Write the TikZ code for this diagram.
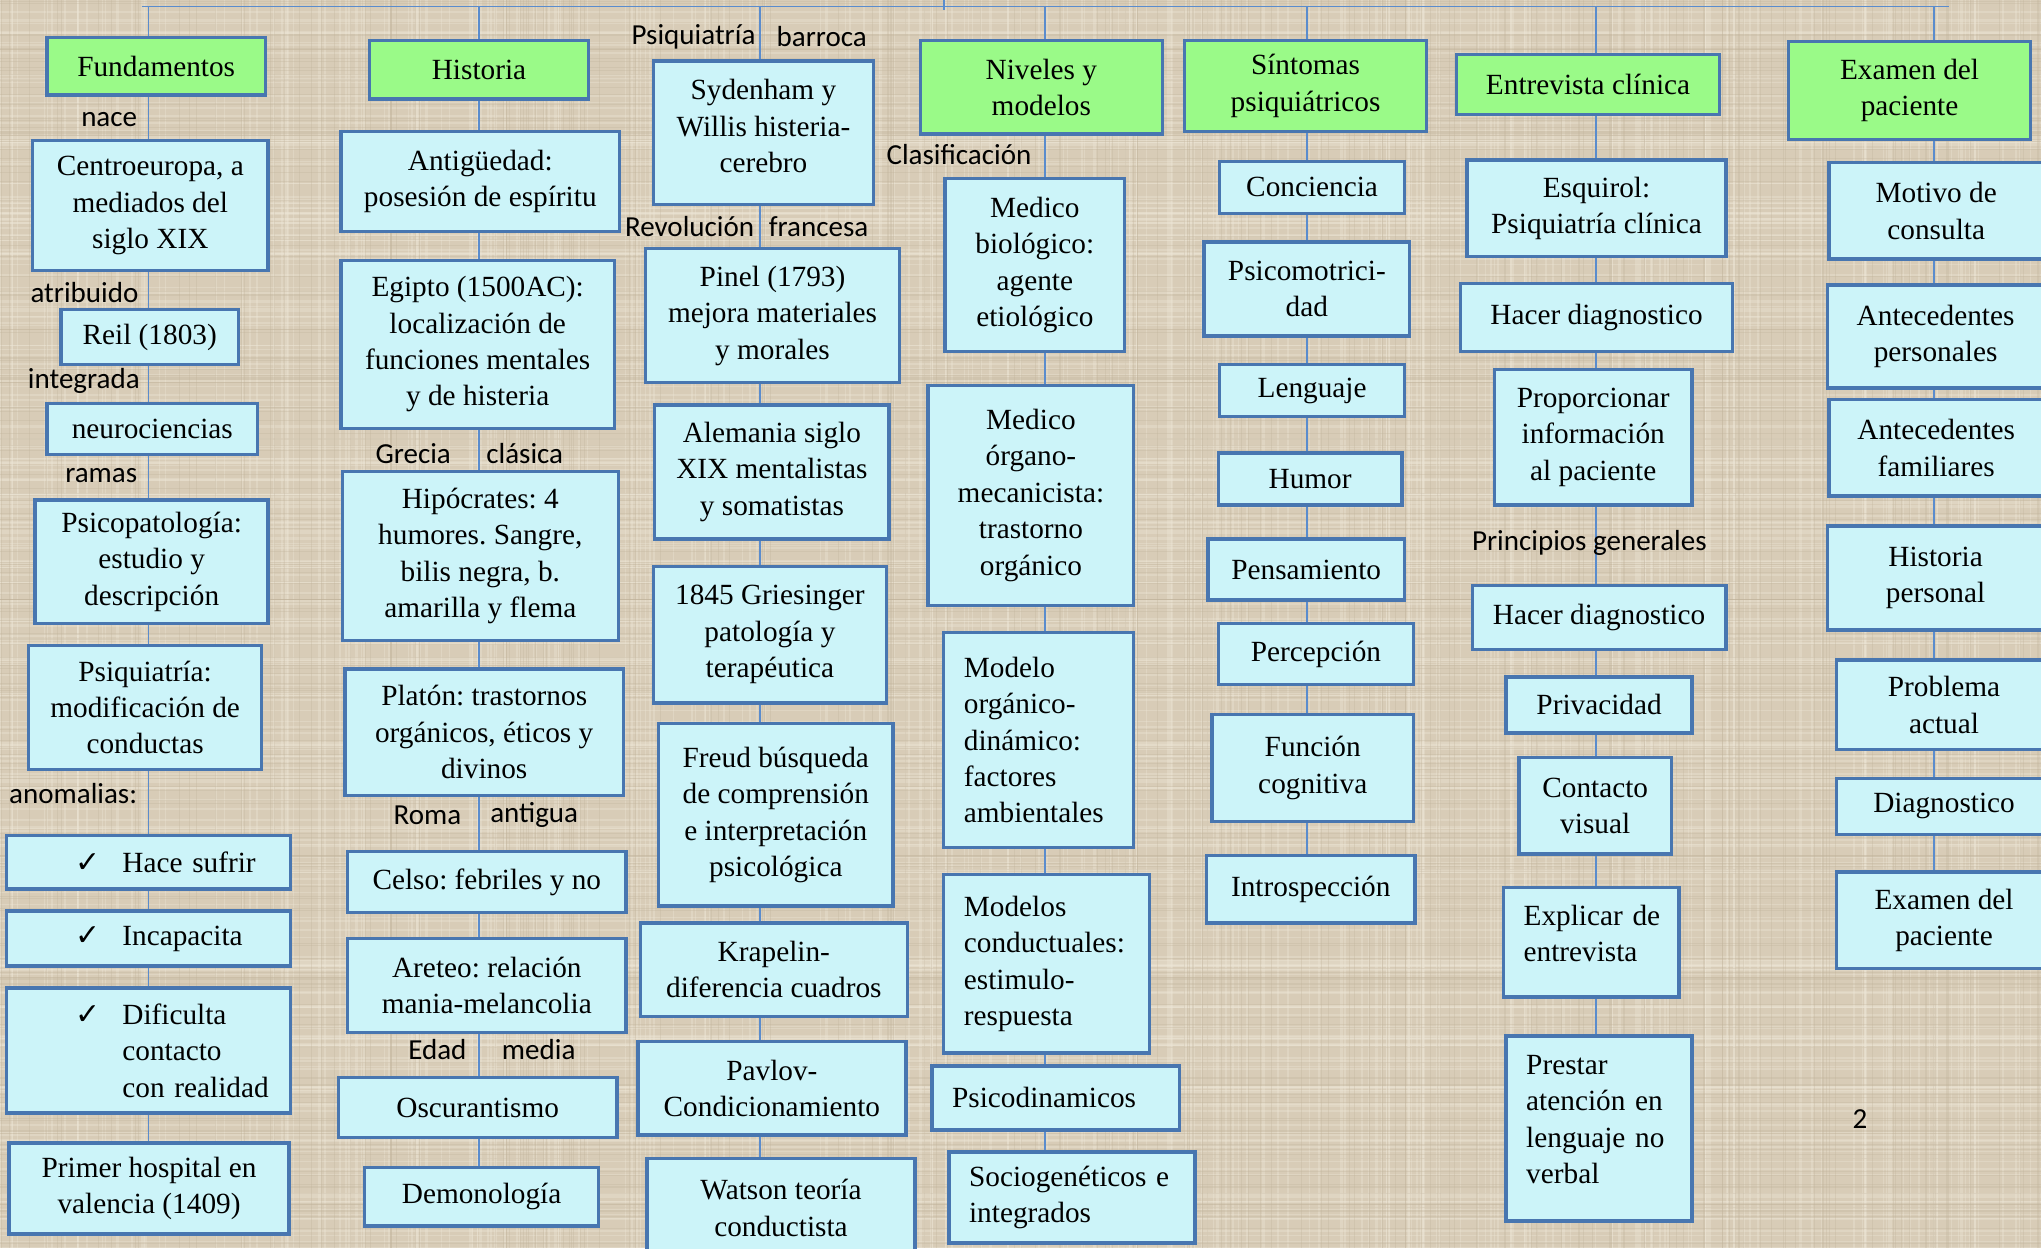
\documentclass[tikz,border=0pt]{standalone}
\usepackage{fontspec}
\setmainfont{Liberation Serif}
\newfontfamily\lblfont{Carlito}
\newfontfamily\chkfont{DejaVu Sans}
\usepackage{tikz}
\usetikzlibrary{positioning}
\frenchspacing

\definecolor{canvas}{RGB}{216,204,183}
\definecolor{canvaslight}{RGB}{238,231,216}
\definecolor{canvasdark}{RGB}{192,178,154}
\definecolor{boxfill}{RGB}{204,244,249}
\definecolor{boxedge}{RGB}{72,118,176}
\definecolor{headfill}{RGB}{154,250,136}
\definecolor{linkblue}{RGB}{90,140,205}

\newcommand{\okmark}{\makebox[36pt][l]{\chkfont\fontsize{23}{23}\selectfont ✓}}

\begin{document}
\begin{tikzpicture}[x=1pt,y=-1pt,
  concept/.style={draw=boxedge,line width=2.6pt,fill=boxfill,inner sep=4pt,
    align=center,font=\fontsize{22.5}{28}\selectfont},
  header/.style={concept,fill=headfill},
  leftbox/.style={concept,align=left,inner xsep=15.5pt},
  tickbox/.style={concept,align=left,inner xsep=6pt},
  lbl/.style={font=\lblfont\fontsize{22.3}{26}\selectfont,inner sep=1pt},
  link/.style={draw=linkblue,line width=1.3pt}]

  \useasboundingbox (0,0) rectangle (1568,959);
  \clip (0,0) rectangle (1568,959);
  \fill[canvas] (0,0) rectangle (1568,959);

  % canvas weave
  \pgfmathsetseed{17}
  \foreach \k in {1,...,260}{
    \pgfmathsetmacro{\xx}{1568*rnd}
    \pgfmathsetmacro{\ww}{0.5+1.5*rnd}
    \draw[canvaslight,opacity=0.35,line width=\ww pt] (\xx,0) -- (\xx,959);
    \pgfmathsetmacro{\yy}{959*rnd}
    \pgfmathsetmacro{\ww}{0.5+1.5*rnd}
    \draw[canvaslight,opacity=0.35,line width=\ww pt] (0,\yy) -- (1568,\yy);
  }
  \foreach \k in {1,...,180}{
    \pgfmathsetmacro{\xx}{1568*rnd}
    \draw[canvasdark,opacity=0.3,line width=0.8pt] (\xx,0) -- (\xx,959);
    \pgfmathsetmacro{\yy}{959*rnd}
    \draw[canvasdark,opacity=0.3,line width=0.8pt] (0,\yy) -- (1568,\yy);
  }

  % top bar
  \coordinate (barl) at (109,5);
  \coordinate (barr) at (1497,5);
  \coordinate (stub) at (725,0);
  \coordinate (stubend) at (725,8);
  \coordinate (t1) at (114,5);
  \coordinate (t2) at (368,5);
  \coordinate (t3) at (584,5);
  \coordinate (t4) at (803,5);
  \coordinate (t5) at (1004,5);
  \coordinate (t6) at (1226,5);
  \coordinate (t7) at (1486,5);

  % Fundamentos
  \node[header,minimum width=168pt,minimum height=44pt] (fund) at (120,51) {Fundamentos};
  \node[concept,minimum width=181pt,minimum height=100pt] (centro) at (115.5,158) {Centroeuropa, a\\mediados del\\siglo XIX};
  \node[concept,minimum width=136pt,minimum height=42pt] (reil) at (115,259) {Reil (1803)};
  \node[concept,minimum width=162pt,minimum height=39pt] (neuro) at (117,329.5) {neurociencias};
  \node[concept,minimum width=179pt,minimum height=95pt] (psicopat) at (116.5,431.5) {Psicopatología:\\estudio y\\descripción};
  \node[concept,minimum width=179pt,minimum height=95pt] (psiqmod) at (111.5,543.5) {Psiquiatría:\\modificación de\\conductas};
  \node[tickbox,text width=206pt,minimum width=218pt,minimum height=41pt] (sufrir) at (114,662.5) {\hspace*{47pt}\okmark Hace sufrir};
  \node[tickbox,text width=206pt,minimum width=218pt,minimum height=42pt] (incapac) at (114,721) {\hspace*{47pt}\okmark Incapacita};
  \node[tickbox,text width=206pt,minimum width=218pt,minimum height=96pt] (dificul) at (114,807) {\hspace*{47pt}\okmark Dificulta\\\hspace*{83pt}contacto\\\hspace*{83pt}con realidad};
  \node[concept,minimum width=215pt,minimum height=70pt] (hospital) at (114.5,913) {Primer hospital en\\valencia (1409)};

  % Historia
  \node[header,minimum width=168pt,minimum height=45pt] (hist) at (368,53.5) {Historia};
  \node[concept,minimum width=214pt,minimum height=77pt] (antig) at (369,139.5) {Antigüedad:\\posesión de espíritu};
  \node[concept,minimum width=210pt,minimum height=129pt] (egipto) at (367,264.5) {Egipto (1500AC):\\localización de\\funciones mentales\\y de histeria};
  \node[concept,minimum width=212pt,minimum height=130pt] (hipoc) at (369,427) {Hipócrates: 4\\humores. Sangre,\\bilis negra, b.\\amarilla y flema};
  \node[concept,minimum width=214pt,minimum height=97pt] (platon) at (372,562.5) {Platón: trastornos\\orgánicos, éticos y\\divinos};
  \node[concept,minimum width=214pt,minimum height=47pt] (celso) at (374,677.5) {Celso: febriles y no};
  \node[concept,minimum width=214pt,minimum height=72pt] (areteo) at (374,757) {Areteo: relación\\mania-melancolia};
  \node[concept,minimum width=214pt,minimum height=46pt] (oscur) at (367,851) {Oscurantismo};
  \node[concept,minimum width=180pt,minimum height=45pt] (demon) at (370,919.5) {Demonología};

  % Psiquiatria barroca
  \node[concept,minimum width=169pt,minimum height=110pt] (syd) at (586.5,102) {Sydenham y\\Willis histeria-\\cerebro\\[-18pt]\mbox{}};
  \node[concept,minimum width=195pt,minimum height=103pt] (pinel) at (593.5,242.5) {Pinel (1793)\\mejora materiales\\y morales};
  \node[concept,minimum width=180pt,minimum height=103pt] (alem) at (593,362.5) {Alemania siglo\\XIX mentalistas\\y somatistas};
  \node[concept,minimum width=179pt,minimum height=105pt] (gries) at (591.5,487.5) {1845 Griesinger\\patología y\\terapéutica};
  \node[concept,minimum width=180pt,minimum height=140pt] (freud) at (596,626) {Freud búsqueda\\de comprensión\\e interpretación\\psicológica};
  \node[concept,minimum width=205pt,minimum height=72pt] (krap) at (594.5,745) {Krapelin-\\diferencia cuadros};
  \node[concept,minimum width=206pt,minimum height=72pt] (pavlov) at (593,836) {Pavlov-\\Condicionamiento};
  \node[concept,minimum width=206pt,minimum height=76pt] (watson) at (600,928) {Watson teoría\\conductista};

  % Niveles y modelos
  \node[header,minimum width=186pt,minimum height=72pt] (niv) at (800,67) {Niveles y\\modelos};
  \node[concept,minimum width=138pt,minimum height=133pt] (medbio) at (795,203.5) {Medico\\biológico:\\agente\\etiológico};
  \node[concept,minimum width=158pt,minimum height=169pt] (medorg) at (792,380.5) {Medico\\órgano-\\mecanicista:\\trastorno\\orgánico};
  \node[leftbox,text width=115pt,minimum width=146pt,minimum height=165pt] (modorg) at (798,568.5) {Modelo\\orgánico-\\dinámico:\\factores\\ambientales};
  \node[leftbox,text width=127pt,minimum width=158pt,minimum height=137pt] (modcond) at (804,740.5) {Modelos\\conductuales:\\estimulo-\\respuesta};
  \node[leftbox,text width=159pt,minimum width=190pt,minimum height=49pt] (psicod) at (811,843.5) {Psicodinamicos};
  \node[leftbox,text width=158pt,minimum width=189pt,minimum height=70pt] (sociog) at (823.5,920) {Sociogenéticos e\\integrados};

  % Sintomas psiquiatricos
  \node[header,minimum width=186pt,minimum height=70pt] (sint) at (1003,66) {Síntomas\\psiquiátricos};
  \node[concept,minimum width=142pt,minimum height=40pt] (conc) at (1008,144) {Conciencia};
  \node[concept,minimum width=158pt,minimum height=72pt] (psicom) at (1004,222) {Psicomotrici-\\dad};
  \node[concept,minimum width=142pt,minimum height=40pt] (leng) at (1008,300) {Lenguaje};
  \node[concept,minimum width=141pt,minimum height=40pt] (humor) at (1006.5,368) {Humor};
  \node[concept,minimum width=151pt,minimum height=47pt] (pens) at (1003.5,437.5) {Pensamiento};
  \node[concept,minimum width=150pt,minimum height=47pt] (percep) at (1011,502.5) {Percepción};
  \node[concept,minimum width=155pt,minimum height=82pt] (funcog) at (1008.5,590) {Función\\cognitiva};
  \node[concept,minimum width=160pt,minimum height=52pt] (intro) at (1007,683) {Introspección};

  % Entrevista clinica
  \node[header,minimum width=202pt,minimum height=46pt] (entrev) at (1220,65) {Entrevista clínica};
  \node[concept,minimum width=199pt,minimum height=74pt] (esquirol) at (1226.5,160) {Esquirol:\\Psiquiatría clínica};
  \node[concept,minimum width=209pt,minimum height=52pt] (diagA) at (1226.5,244) {Hacer diagnostico};
  \node[concept,minimum width=152pt,minimum height=104pt] (proporc) at (1224,336) {Proporcionar\\información\\al paciente};
  \node[concept,minimum width=195pt,minimum height=49pt] (diagB) at (1228.5,474.5) {Hacer diagnostico};
  \node[concept,minimum width=143pt,minimum height=43pt] (privac) at (1228.5,541.5) {Privacidad};
  \node[concept,minimum width=117pt,minimum height=74pt] (contacto) at (1225.5,619) {Contacto\\visual};
  \node[leftbox,inner xsep=11.5pt,text width=112pt,minimum width=135pt,minimum height=84pt] (explic) at (1222.5,724) {\hspace*{4pt}Explicar de\\\hspace*{4pt}entrevista\\[-14pt]\mbox{}};
  \node[leftbox,text width=112pt,minimum width=143pt,minimum height=142pt] (prestar) at (1228.5,867) {Prestar\\atención en\\lenguaje no\\verbal\\[-14pt]\mbox{}};

  % Examen del paciente
  \node[header,minimum width=186pt,minimum height=75pt] (examen) at (1467,69.5) {Examen del\\paciente};
  \node[concept,minimum width=165pt,minimum height=74pt] (motivo) at (1487.5,162) {Motivo de\\consulta};
  \node[concept,minimum width=166pt,minimum height=79pt] (antpers) at (1487,258.5) {Antecedentes\\personales};
  \node[concept,minimum width=165pt,minimum height=74pt] (antfam) at (1487.5,344) {Antecedentes\\familiares};
  \node[concept,minimum width=166pt,minimum height=80pt] (histper) at (1487,444) {Historia\\personal};
  \node[concept,minimum width=165pt,minimum height=69pt] (problema) at (1493.5,541.5) {Problema\\actual};
  \node[concept,minimum width=165pt,minimum height=43pt] (diagC) at (1493.5,619.5) {Diagnostico};
  \node[concept,minimum width=165pt,minimum height=74pt] (examenB) at (1493.5,707) {Examen del\\paciente};

  \node[lbl] (pagenum) at (1429,860) {2};

  % connectors
  \draw[link] (barl) -- (barr);
  \draw[link] (stub) -- (stubend);

  \draw[link] (t1) -- (fund.north -| t1);
  \draw[link] (fund.south -| t1) -- (centro.north -| t1) node[lbl,pos=0.54,left=7pt] {nace};
  \draw[link] (centro.south -| t1) -- (reil.north -| t1) node[lbl,pos=0.57,left=6pt] {atribuido};
  \draw[link] (reil.south -| t1) -- (neuro.north -| t1) node[lbl,pos=0.4,left=5pt] {integrada};
  \draw[link] (neuro.south -| t1) -- (psicopat.north -| t1) node[lbl,pos=0.46,left=7pt] {ramas};
  \draw[link] (psicopat.south -| t1) -- (psiqmod.north -| t1);
  \draw[link] (psiqmod.south -| t1) -- (sufrir.north -| t1) node[lbl,pos=0.35,left=7pt] {anomalias:};
  \draw[link] (sufrir.south -| t1) -- (incapac.north -| t1);
  \draw[link] (incapac.south -| t1) -- (dificul.north -| t1);
  \draw[link] (dificul.south -| t1) -- (hospital.north -| t1);

  \draw[link] (t2) -- (hist.north -| t2);
  \draw[link] (hist.south -| t2) -- (antig.north -| t2);
  \draw[link] (antig.south -| t2) -- (egipto.north -| t2);
  \draw[link] (egipto.south -| t2) -- (hipoc.north -| t2)
    node[lbl,pos=0.59,left=20pt] {Grecia} node[lbl,pos=0.59,right=4pt] {clásica};
  \draw[link] (hipoc.south -| t2) -- (platon.north -| t2);
  \draw[link] (platon.south -| t2) -- (celso.north -| t2)
    node[lbl,pos=0.35,left=12pt] {Roma} node[lbl,pos=0.35,right=7pt] {antigua};
  \draw[link] (celso.south -| t2) -- (areteo.north -| t2);
  \draw[link] (areteo.south -| t2) -- (oscur.north -| t2)
    node[lbl,pos=0.37,left=8pt] {Edad} node[lbl,pos=0.37,right=16pt] {media};
  \draw[link] (oscur.south -| t2) -- (demon.north -| t2);

  \draw[link] (t3) -- (syd.north -| t3)
    node[lbl,pos=0.57,left=2pt] {Psiquiatría} node[lbl,pos=0.57,right=11pt] {barroca};
  \draw[link] (syd.south -| t3) -- (pinel.north -| t3)
    node[lbl,pos=0.5,left=3pt] {Revolución} node[lbl,pos=0.5,right=5pt] {francesa};
  \draw[link] (pinel.south -| t3) -- (alem.north -| t3);
  \draw[link] (alem.south -| t3) -- (gries.north -| t3);
  \draw[link] (gries.south -| t3) -- (freud.north -| t3);
  \draw[link] (freud.south -| t3) -- (krap.north -| t3);
  \draw[link] (krap.south -| t3) -- (pavlov.north -| t3);
  \draw[link] (pavlov.south -| t3) -- (watson.north -| t3);

  \draw[link] (t4) -- (niv.north -| t4);
  \draw[link] (niv.south -| t4) -- (medbio.north -| t4) node[lbl,pos=0.47,left=9pt] {Clasificación};
  \draw[link] (medbio.south -| t4) -- (medorg.north -| t4);
  \draw[link] (medorg.south -| t4) -- (modorg.north -| t4);
  \draw[link] (modorg.south -| t4) -- (modcond.north -| t4);
  \draw[link] (modcond.south -| t4) -- (psicod.north -| t4);
  \draw[link] (psicod.south -| t4) -- (sociog.north -| t4);

  \draw[link] (t5) -- (sint.north -| t5);
  \draw[link] (sint.south -| t5) -- (conc.north -| t5);
  \draw[link] (conc.south -| t5) -- (psicom.north -| t5);
  \draw[link] (psicom.south -| t5) -- (leng.north -| t5);
  \draw[link] (leng.south -| t5) -- (humor.north -| t5);
  \draw[link] (humor.south -| t5) -- (pens.north -| t5);
  \draw[link] (pens.south -| t5) -- (percep.north -| t5);
  \draw[link] (percep.south -| t5) -- (funcog.north -| t5);
  \draw[link] (funcog.south -| t5) -- (intro.north -| t5);

  \draw[link] (t6) -- (entrev.north -| t6);
  \draw[link] (entrev.south -| t6) -- (esquirol.north -| t6);
  \draw[link] (esquirol.south -| t6) -- (diagA.north -| t6);
  \draw[link] (diagA.south -| t6) -- (proporc.north -| t6);
  \draw[link] (proporc.south -| t6) -- (diagB.north -| t6)
    node[lbl,pos=0.47,xshift=-5pt] {Principios generales};
  \draw[link] (diagB.south -| t6) -- (privac.north -| t6);
  \draw[link] (privac.south -| t6) -- (contacto.north -| t6);
  \draw[link] (contacto.south -| t6) -- (explic.north -| t6);
  \draw[link] (explic.south -| t6) -- (prestar.north -| t6);

  \draw[link] (t7) -- (examen.north -| t7);
  \draw[link] (examen.south -| t7) -- (motivo.north -| t7);
  \draw[link] (motivo.south -| t7) -- (antpers.north -| t7);
  \draw[link] (antpers.south -| t7) -- (antfam.north -| t7);
  \draw[link] (antfam.south -| t7) -- (histper.north -| t7);
  \draw[link] (histper.south -| t7) -- (problema.north -| t7);
  \draw[link] (problema.south -| t7) -- (diagC.north -| t7);
  \draw[link] (diagC.south -| t7) -- (examenB.north -| t7);
\end{tikzpicture}
\end{document}
